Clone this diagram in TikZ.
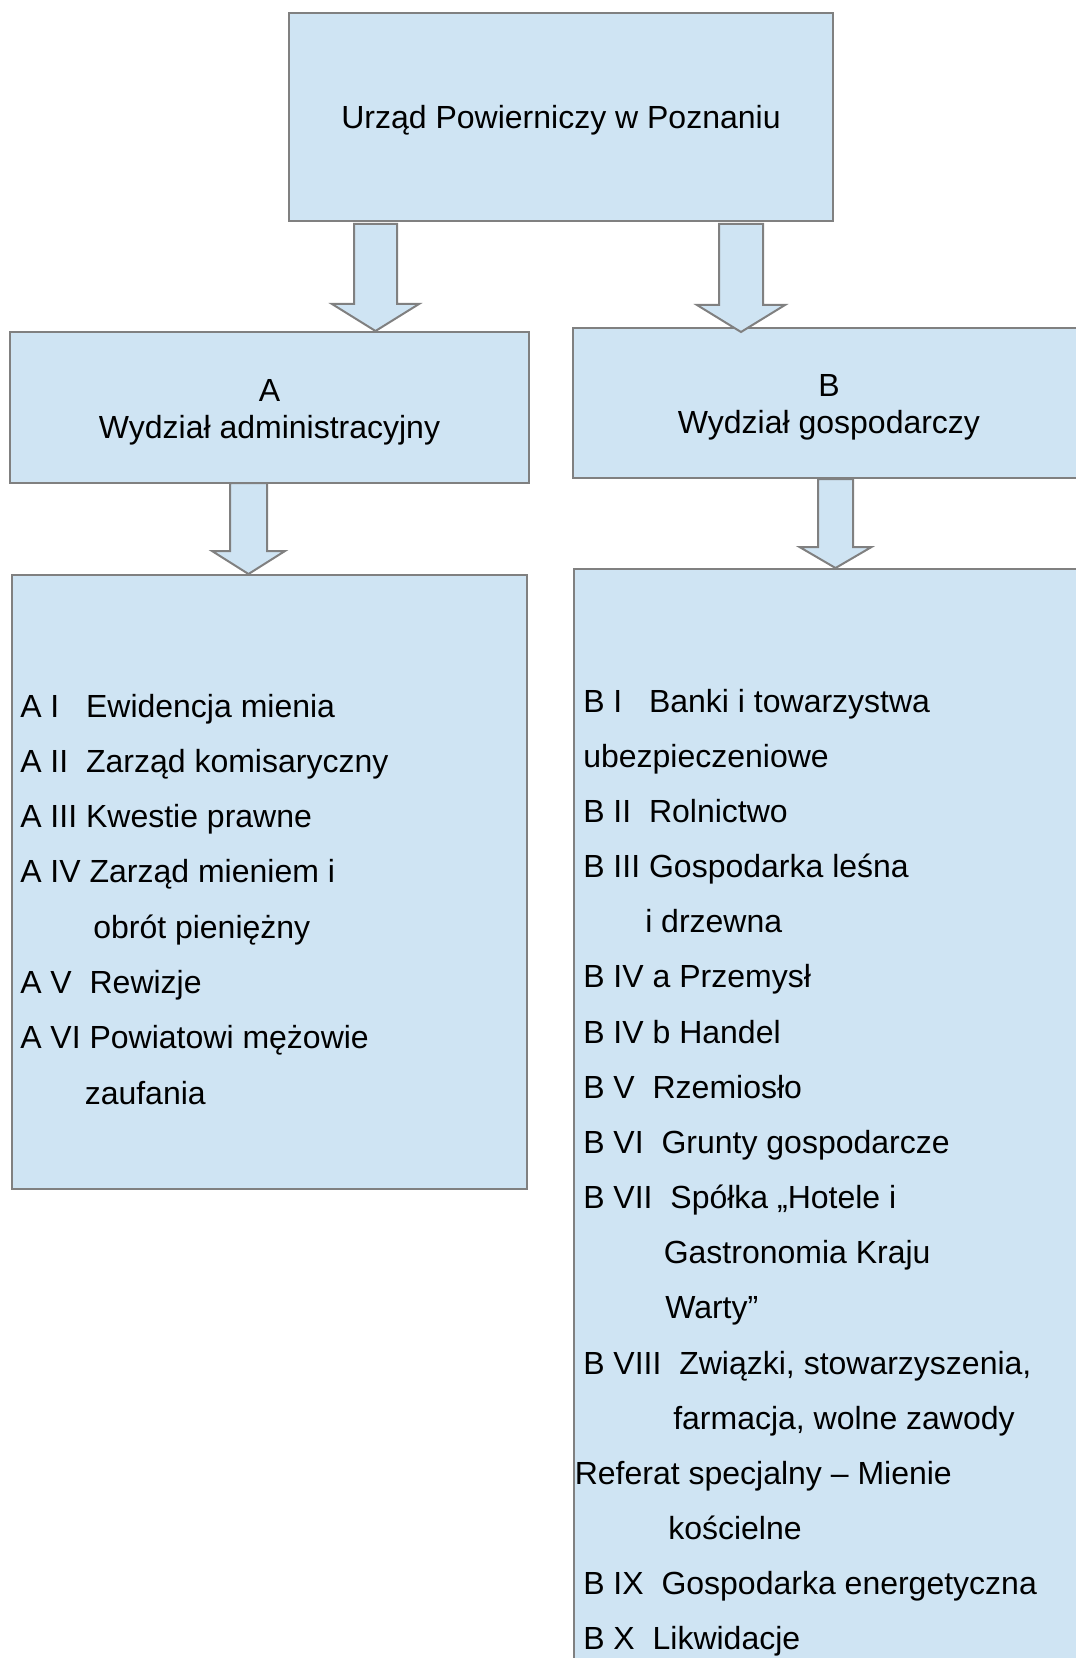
\documentclass[tikz,border=0pt]{standalone}
\usepackage{fontspec}
\setmainfont{Liberation Sans}
\usetikzlibrary{calc}

\definecolor{boxfill}{RGB}{207,228,243}
\definecolor{boxline}{RGB}{128,128,128}

% block arrow: start, tip, half shaft, half head, head length (px)
\newcommand{\blockarrow}[5]{%
  \draw[arrowbox] let \p1=(#1), \p2=(#2) in
    (\x1-#3*0.75pt,\y1) -- (\x1-#3*0.75pt,\y2+#5*0.75pt) -- (\x1-#4*0.75pt,\y2+#5*0.75pt)
    -- (\x1,\y2) -- (\x1+#4*0.75pt,\y2+#5*0.75pt) -- (\x1+#3*0.75pt,\y2+#5*0.75pt)
    -- (\x1+#3*0.75pt,\y1) -- cycle;}
% taller first line, moves the box text down a little
\newcommand{\lowstrut}[1]{\rule{0pt}{#1}}

\begin{document}
\begin{tikzpicture}[
        x=0.75pt, y=-0.75pt,
        box/.style={rectangle, draw=boxline, fill=boxfill, line width=1.5pt, align=center, inner sep=0pt, font=\fontsize{24pt}{27.75pt}\selectfont},
        item/.style={anchor=base west, inner sep=0pt, font=\fontsize{24pt}{28pt}\selectfont},
        arrowbox/.style={draw=boxline, fill=boxfill, line width=1.5pt, line join=miter}
    ]
    \useasboundingbox (0,0) rectangle (1075,1658);

    \node[box, minimum width=408pt, minimum height=156pt] (top) at (561,117) {\lowstrut{22.3pt}Urząd Powierniczy w Poznaniu};
    \node[box, minimum width=389.25pt, minimum height=113.25pt] (wa) at (269.5,407.5) {\lowstrut{23.5pt}A\\Wydział administracyjny};
    \node[box, minimum width=384pt, minimum height=112.5pt] (wb) at (829,403) {\lowstrut{23.5pt}B\\Wydział gospodarczy};
    \node[box, minimum width=386.25pt, minimum height=460.5pt] (lista) at (269.5,882) {};
    \node[box, minimum width=383.25pt, minimum height=833.25pt] (listb) at (829.5,1124.5) {};

    % arrows
    \coordinate (a1s) at ($(top.south)+(-185.5,2)$);
    \coordinate (a1e) at (a1s |- wa.north);
    \coordinate (a2s) at ($(top.south)+(180,2)$);
    \coordinate (a2e) at ($(a2s |- wb.north)+(0,5)$);
    \coordinate (a3s) at ($(wa.south)+(-21,-1)$);
    \coordinate (a3e) at (a3s |- lista.north);
    \coordinate (a4s) at ($(wb.south)+(6.5,0)$);
    \coordinate (a4e) at (a4s |- listb.north);
    \blockarrow{a1s}{a1e}{21.5}{43.5}{27}
    \blockarrow{a2s}{a2e}{22}{44}{27}
    \blockarrow{a3s}{a3e}{18.5}{36.5}{23}
    \blockarrow{a4s}{a4e}{17.5}{36}{21}

    % section A
    \foreach \x/\t [count=\i] in {
        20/{A I~~~Ewidencja mienia},
        20/{A II~~Zarząd komisaryczny},
        20/{A III Kwestie prawne},
        20/{A IV Zarząd mieniem i},
        93/{obrót pieniężny},
        20/{A V~~Rewizje},
        20/{A VI Powiatowi mężowie},
        84.5/{zaufania}}
        \node[item] (la\i) at (\x,{717+55.3*(\i-1)}) {\t};

    % section B
    \foreach \x/\t [count=\i] in {
        583/{B I~~~Banki i towarzystwa},
        583/{ubezpieczeniowe},
        583/{B II~~Rolnictwo},
        583/{B III Gospodarka leśna},
        645/{i drzewna},
        583/{B IV a Przemysł},
        583/{B IV b Handel},
        583/{B V~~Rzemiosło},
        583/{B VI~~Grunty gospodarcze},
        583/{B VII~~Spółka „Hotele i},
        663.5/{Gastronomia Kraju},
        665/{Warty”},
        583/{B VIII~~Związki, stowarzyszenia,},
        673/{farmacja, wolne zawody},
        574.5/{Referat specjalny – Mienie},
        668/{kościelne},
        583/{B IX~~Gospodarka energetyczna},
        583/{B X~~Likwidacje}}
        \node[item] (lb\i) at (\x,{712+55.17*(\i-1)}) {\t};
\end{tikzpicture}
\end{document}
